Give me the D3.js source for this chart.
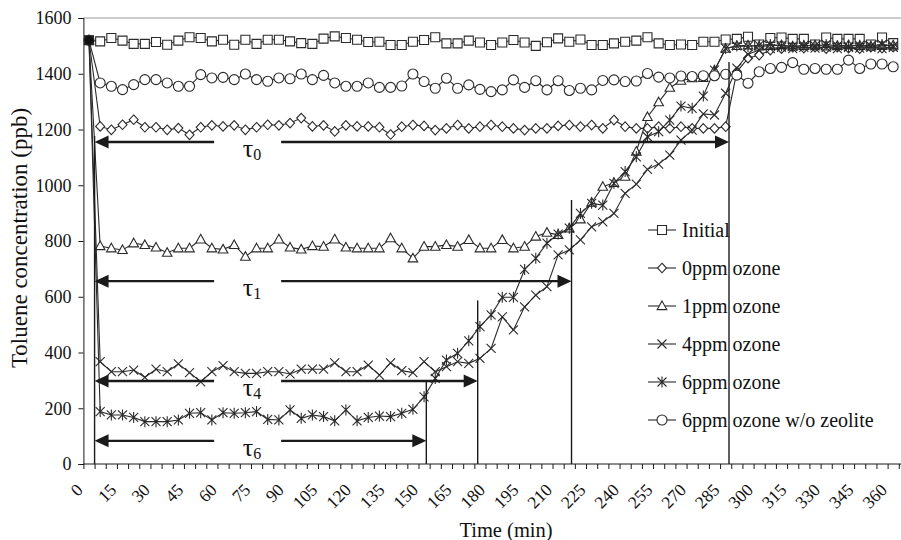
<!DOCTYPE html>
<html><head><meta charset="utf-8">
<script src="https://cdn.jsdelivr.net/npm/d3@7"></script>
<style>
html,body{margin:0;padding:0;background:#fff;}
svg{display:block;}
text{font-family:"Liberation Serif","Times New Roman",serif;fill:#111;}
</style></head>
<body>
<svg id="chart" width="901" height="540"></svg>
<script>
// ---------------- data ----------------
const times = [0,5,10,15,20,25,30,35,40,45,50,55,60,65,70,75,80,85,90,95,100,105,110,115,120,125,130,135,140,145,150,155,160,165,170,175,180,185,190,195,200,205,210,215,220,225,230,235,240,245,250,255,260,265,270,275,280,285,290,295,300,305,310,315,320,325,330,335,340,345,350,355,360];

const initial = [1520,
 1516,1528,1519,1507,1507,1514,1504,1519,1531,1528,1516,1522,1504,1522,1507,1522,1522,1516,1510,1507,1526,1534,1528,1522,1514,
 1515,1503,1503,1515,1521,1531,1509,1509,1519,1512,1503,1512,1521,1512,1500,1513,1527,1515,1523,1503,1503,1509,1515,1519,1531,1509,1503,1505,1503,1515,1515,1523,1525,1533,
 1505,1528,1530,1525,1525,1505,1530,1525,1525,1525,1505,1530,1510];

const ozone0 = [1520,
 1211,1199,1217,1235,1208,1208,1199,1205,1181,1208,1215,1211,1215,1199,1208,1217,1215,1223,1241,1211,1215,1193,1215,1211,1211,1208,
 1182,1210,1216,1213,1198,1204,1216,1204,1210,1216,1210,1204,1198,1204,1204,1213,1216,1210,1216,1204,1234,1210,1204,1204,1210,1204,1210,1204,1204,1204,1210,
 1407,1456,1467,1485,1490,1495,1492,1495,1490,1495,1492,1490,1495,1492,1495];

const ozone1 = [1520,
 782,774,768,792,786,777,758,774,774,806,774,770,786,744,774,774,806,777,770,782,780,806,777,774,774,774,
 810,774,738,780,780,786,780,804,774,774,804,774,780,816,830,
 822,845,878,938,995,1009,1031,1121,1245,1298,1350,1375,1384,1385,1412,1490,
 1500,1502,1498,1500,1503,1498,1500,1502,1498,1500,1503,1500,1498,1500,1502];

const ozone4 = [1520,
 367,331,331,337,311,340,331,359,328,295,331,353,331,325,325,331,331,323,340,340,340,363,331,331,355,319,
 363,335,328,367,331,349,367,361,379,415,528,481,564,606,636,750,
 768,804,851,869,899,971,1004,1057,1076,1108,1162,1198,1256,1252,1330,
 1420,1470,1485,1490,1495,1490,1495,1492,1495,1490,1495,1492,1495,1490,1495];

const ozone6 = [1520,
 188,176,176,167,152,152,152,158,182,184,158,184,182,184,188,160,158,194,164,176,170,155,194,155,167,172,
 170,182,196,241,307,373,397,442,493,535,598,598,698,738,792,825,
 846,899,935,929,1007,1049,1102,1174,1192,1234,1284,1276,1320,1413,1491,
 1500,1498,1502,1505,1500,1498,1502,1500,1505,1500,1498,1502,1500,1505,1500];

const ozone6NoZeolite = [1520,
 1367,1355,1343,1361,1379,1379,1367,1355,1355,1397,1385,1387,1379,1399,1379,1373,1385,1382,1399,1379,1394,1367,1355,1355,1367,1351,
 1351,1356,1399,1372,1348,1384,1348,1360,1344,1336,1342,1378,1351,1375,1342,
 1375,1340,1348,1342,1376,1378,1372,1374,1401,1388,1385,1392,1390,1393,1393,1398,
 1395,1366,1407,1419,1423,1440,1416,1419,1416,1416,1449,1419,1435,1435,1425];

const seriesNames = ["Initial","0ppm ozone","1ppm ozone","4ppm ozone","6ppm ozone","6ppm ozone w/o zeolite"];
const seriesSymbols = ["square","diamond","triangle","cross","star","circle"];
const seriesValues = [initial, ozone0, ozone1, ozone4, ozone6, ozone6NoZeolite];

const xTickLabels = ["0","15","30","45","60","75","90","105","120","135","150","165","180","195","210","225","240","255","270","285","300","315","330","345","360"];
const yTickValues = [0,200,400,600,800,1000,1200,1400,1600];

// tau annotations (data units: minutes / ppb)
const tauNames = ["0","1","4","6"];
const tauStart = 2.5;
const tauEnd = [286.5, 216, 174, 151];
const tauLevel = [1155, 656, 298, 83];
const tauTop = [1442, 947, 587, 301];
const tauGap = [56, 86];
const tauLabelAt = 73;

// ---------------- drawing ----------------
const svg = d3.select("#chart");
const x = d3.scaleLinear().domain([0, 360]).range([89, 893.2]);
const y = d3.scaleLinear().domain([0, 1600]).range([464, 18]);
const ink = "#1a1a1a";

// top frame line
svg.append("line").attr("x1", x(-2.5)).attr("x2", 901).attr("y1", y(1600)).attr("y2", y(1600))
  .attr("stroke", "#9a9a9a").attr("stroke-width", 1);

// y axis
const yAxis = svg.append("g").attr("transform", `translate(${x(-2.5)},0)`)
  .call(d3.axisLeft(y).tickValues(yTickValues).tickSize(5).tickPadding(7).tickFormat(d3.format("d")));
yAxis.select(".domain").attr("stroke", ink);
yAxis.selectAll(".tick line").attr("stroke", ink);
yAxis.selectAll("text").attr("font-size", 18).attr("font-family", "Liberation Serif").attr("fill", ink);

// x axis (category boundaries every 5 min)
const tickTimes = d3.range(-2.5, 365, 5);
const xAxis = svg.append("g").attr("transform", `translate(0,${y(0)})`)
  .call(d3.axisBottom(x).tickValues(tickTimes).tickSize(5).tickFormat(""));
xAxis.select(".domain").attr("d", `M${x(-2.5)},0H901`).attr("stroke", ink);
xAxis.selectAll(".tick line").attr("stroke", ink);

svg.append("g").selectAll("text").data(xTickLabels).join("text")
  .attr("transform", d => `translate(${x(+d) - 5},${y(0) + 27}) rotate(-45)`)
  .attr("text-anchor", "end").attr("font-size", 17.5).text(d => d);

// axis titles
svg.append("text").attr("transform", `translate(27,238) rotate(-90)`)
  .attr("text-anchor", "middle").attr("font-size", 23).text("Toluene concentration (ppb)");
svg.append("text").attr("x", 506).attr("y", 537)
  .attr("text-anchor", "middle").attr("font-size", 20.5).text("Time (min)");

// symbols
function symbolPath(type) {
  switch (type) {
    case "square": return "M-4.5,-4.5H4.5V4.5H-4.5Z";
    case "diamond": return "M0,-4.8L4.5,0L0,4.8L-4.5,0Z";
    case "triangle": return "M0,-5L4.8,3.6H-4.8Z";
    case "circle": return "M5,0A5,5 0 1,1 -5,0A5,5 0 1,1 5,0Z";
    case "cross": return "M-4.5,-4.5L4.5,4.5M4.5,-4.5L-4.5,4.5";
    case "star": return "M-4.5,-4.5L4.5,4.5M4.5,-4.5L-4.5,4.5M0,-5.5V5.5";
  }
}
const filled = t => !(t === "cross" || t === "star");

const line = d3.line().x((d, i) => x(times[i])).y(d => y(d));
const plot = svg.append("g");
seriesValues.forEach((vals, si) => {
  const g = plot.append("g");
  g.append("path").attr("d", line(vals)).attr("fill", "none")
    .attr("stroke", "#2a2a2a").attr("stroke-width", 1.1);
  g.selectAll("path.m").data(vals).join("path").attr("class", "m")
    .attr("transform", (d, i) => `translate(${x(times[i])},${y(d)})`)
    .attr("d", symbolPath(seriesSymbols[si]))
    .attr("fill", (d, i) => (filled(seriesSymbols[si]) && i > 0) ? "#fff" : (i === 0 ? "#111" : "none"))
    .attr("stroke", "#2a2a2a").attr("stroke-width", 1.1);
});

// legend
const legend = svg.append("g");
seriesNames.forEach((name, i) => {
  const ly = 230 + i * 38;
  legend.append("line").attr("x1", 648).attr("x2", 676).attr("y1", ly).attr("y2", ly)
    .attr("stroke", "#2a2a2a").attr("stroke-width", 1.1);
  legend.append("path").attr("transform", `translate(662,${ly})`).attr("d", symbolPath(seriesSymbols[i]))
    .attr("fill", filled(seriesSymbols[i]) ? "#fff" : "none").attr("stroke", "#2a2a2a").attr("stroke-width", 1.1);
  legend.append("text").attr("x", 682).attr("y", ly + 7).attr("font-size", 20).text(name);
});

// tau annotations
const ann = svg.append("g");
const arrowHead = (px, py, dir) => `M${px},${py}L${px - dir * 14},${py - 6.5}L${px - dir * 14},${py + 6.5}Z`;
// left vertical line
ann.append("line").attr("x1", x(tauStart)).attr("x2", x(tauStart)).attr("y1", y(tauLevel[0]) - 6).attr("y2", y(0))
  .attr("stroke", ink).attr("stroke-width", 1.4);
tauNames.forEach((nm, i) => {
  const yy = y(tauLevel[i]);
  const x0 = x(tauStart), x1 = x(tauEnd[i]);
  ann.append("line").attr("x1", x0 + 10).attr("x2", x(tauGap[0])).attr("y1", yy).attr("y2", yy)
    .attr("stroke", ink).attr("stroke-width", 2.4);
  ann.append("line").attr("x1", x(tauGap[1])).attr("x2", x1 - 10).attr("y1", yy).attr("y2", yy)
    .attr("stroke", ink).attr("stroke-width", 2.4);
  ann.append("path").attr("d", arrowHead(x0, yy, -1)).attr("fill", ink);
  ann.append("path").attr("d", arrowHead(x1, yy, 1)).attr("fill", ink);
  ann.append("line").attr("x1", x1).attr("x2", x1).attr("y1", y(tauTop[i])).attr("y2", y(0))
    .attr("stroke", ink).attr("stroke-width", 1.4);
  const t = ann.append("text").attr("x", x(tauLabelAt)).attr("y", yy + 15)
    .attr("text-anchor", "middle").attr("font-size", 26);
  t.append("tspan").text("τ");
  t.append("tspan").attr("font-size", 16).attr("dy", 3).text(nm);
});
</script>
</body></html>
